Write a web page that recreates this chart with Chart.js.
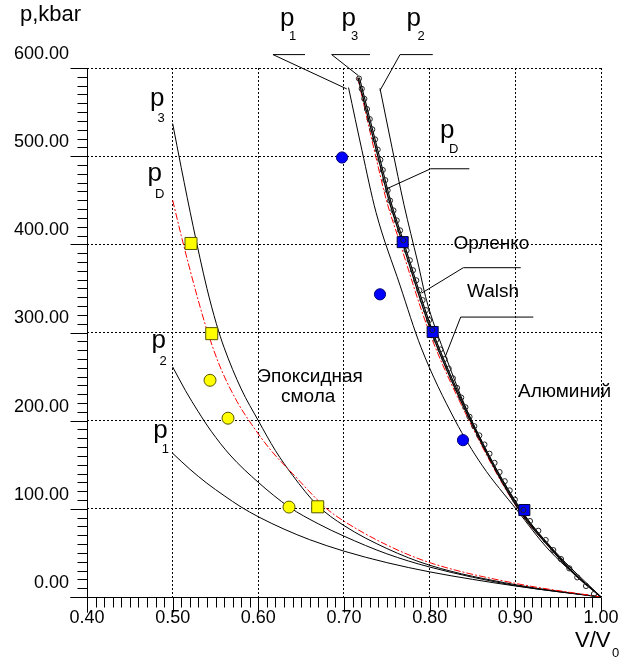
<!DOCTYPE html>
<html>
<head>
<meta charset="utf-8">
<script src="https://cdn.jsdelivr.net/npm/chart.js@4.4.1/dist/chart.umd.min.js"></script>
<style>
  body { margin: 0; background: #fff; }
  #wrap { position: relative; width: 621px; height: 659px; }
  .t { position: absolute; font-family: 'Liberation Sans', Arial, sans-serif; line-height: 1; white-space: nowrap; color: #000; }
</style>
</head>
<body>
<div id="wrap">
  <canvas id="c" width="621" height="659"></canvas>
  <span class="t" style="left:20px;top:2.5px;font-size:22px">p,kbar</span>
  <span class="t" style="left:575px;top:629px;font-size:22px">V/V</span>
  <span class="t" style="left:612px;top:646px;font-size:13px">0</span>

  <span class="t" style="left:280px;top:4.4px;font-size:26px">p</span>
  <span class="t" style="left:289px;top:29px;font-size:13px">1</span>
  <span class="t" style="left:341.5px;top:4.4px;font-size:26px">p</span>
  <span class="t" style="left:351px;top:29px;font-size:13px">3</span>
  <span class="t" style="left:406.5px;top:4.4px;font-size:26px">p</span>
  <span class="t" style="left:417.5px;top:29px;font-size:13px">2</span>

  <span class="t" style="left:150px;top:84.2px;font-size:26px">p</span>
  <span class="t" style="left:157.5px;top:110.7px;font-size:13px">3</span>
  <span class="t" style="left:147.6px;top:159.2px;font-size:26px">p</span>
  <span class="t" style="left:155px;top:187.3px;font-size:13px">D</span>
  <span class="t" style="left:151.6px;top:325.8px;font-size:26px">p</span>
  <span class="t" style="left:159.5px;top:354px;font-size:13px">2</span>
  <span class="t" style="left:153.3px;top:415.8px;font-size:26px">p</span>
  <span class="t" style="left:161.7px;top:442px;font-size:13px">1</span>

  <span class="t" style="left:440px;top:115.8px;font-size:26px">p</span>
  <span class="t" style="left:449px;top:142.3px;font-size:13px">D</span>
  <span class="t" style="left:453.5px;top:233.4px;font-size:19px">Орленко</span>
  <span class="t" style="left:467px;top:280.6px;font-size:19px">Walsh</span>
  <span class="t" style="left:257.3px;top:365.9px;font-size:19px">Эпоксидная</span>
  <span class="t" style="left:281px;top:385.6px;font-size:19px">смола</span>
  <span class="t" style="left:518px;top:380.6px;font-size:19px">Алюминий</span>
</div>
<script>
// axes
var xTicks = [0.4, 0.5, 0.6, 0.7, 0.8, 0.9, 1.0];
var yTicks = [0, 100, 200, 300, 400, 500, 600];

// epoxy resin curves (V/V0, p kbar)
var epP1V = [0.500, 0.520, 0.540, 0.560, 0.580, 0.600, 0.630, 0.660, 0.700, 0.750, 0.800, 0.850, 0.900, 0.950, 1.000];
var epP1P = [163, 145, 129, 115, 102, 91, 77, 65, 52, 39, 28.5, 20, 12.5, 6, 0];
var epP2V = [0.500, 0.515, 0.530, 0.545, 0.567, 0.600, 0.636, 0.670, 0.700, 0.750, 0.800, 0.900, 1.000];
var epP2P = [261, 234, 210, 188, 161, 130, 102, 83, 69, 49, 34, 13, 0];
var epP3V = [0.500, 0.510, 0.524, 0.540, 0.551, 0.560, 0.580, 0.600, 0.620, 0.640, 0.669, 0.700, 0.750, 0.800, 0.900, 1.000];
var epP3P = [537, 487, 420, 350, 310, 283, 236, 200, 166, 138, 104, 81, 55, 36, 14, 0];
var epPDV = [0.500, 0.510, 0.520, 0.530, 0.540, 0.555, 0.575, 0.592, 0.615, 0.640, 0.680, 0.700, 0.750, 0.800, 0.900, 1.000];
var epPDP = [450, 410, 372, 336, 303, 262, 222, 196, 166, 140, 100, 86, 59, 39, 15.5, 0];

// aluminium curves
var alP1V = [0.7053, 0.7210, 0.7374, 0.7654, 0.7899, 0.8296, 0.8611, 0.9019, 0.9393, 1.000];
var alP1P = [577.8, 506.4, 436.2, 353.5, 283.2, 200.5, 149.5, 98.6, 53.2, 0];
var alP2V = [0.7420, 0.7560, 0.7700, 0.7860, 0.7965, 0.8160, 0.8490, 0.9060, 0.9450, 1.000];
var alP2P = [577, 510, 445, 380, 336, 280, 200, 100, 53, 0];
var alP3V = [0.7163, 0.7395, 0.7525, 0.7675, 0.8015, 0.8455, 0.9035, 0.9430, 0.9700, 1.000];
var alP3P = [589, 500, 450, 404, 302, 204, 100, 53, 25, 0];
var orlV = [0.7180, 0.7412, 0.7542, 0.7692, 0.8032, 0.8470, 0.9050, 0.9443, 0.9710, 1.000];
var orlP = [589, 500, 450, 404, 302, 204, 100, 53, 25, 0];
var alPDV = [0.7160, 0.7370, 0.7495, 0.7645, 0.7990, 0.8440, 0.9030, 0.9430, 0.9700, 1.000];
var alPDP = [589, 500, 450, 404, 302, 204, 100, 53, 25, 0];

// Walsh data (small circles)
var walshV = [0.7175, 0.7207, 0.7237, 0.7268, 0.7300, 0.7330, 0.7362, 0.7393, 0.7424, 0.7452,
              0.7481, 0.7509, 0.7537, 0.7577, 0.7615, 0.7654, 0.7692, 0.7730, 0.7768, 0.7805,
              0.7843, 0.7880, 0.7917, 0.7956, 0.7993, 0.8031, 0.8076, 0.8125, 0.8174, 0.8222,
              0.8271, 0.8319, 0.8368, 0.8417, 0.8465, 0.8521, 0.8579, 0.8639, 0.8698, 0.8757,
              0.8816, 0.8876, 0.8934, 0.8994, 0.9094, 0.9171, 0.9268, 0.9354, 0.9443, 0.9533,
              0.9630, 0.9723, 0.9825, 0.9918];
var walshP = [588.0, 576.4, 565.0, 553.4, 542.0, 530.4, 519.0, 507.4, 495.9, 484.3,
              472.8, 461.2, 449.6, 438.4, 427.1, 415.8, 404.6, 393.2, 381.9, 370.6,
              359.2, 347.9, 336.7, 325.4, 314.0, 302.7, 291.7, 280.7, 269.9, 259.0,
              248.0, 237.1, 226.2, 215.2, 204.4, 193.7, 183.3, 172.9, 162.5, 152.1,
              141.7, 131.3, 120.9, 110.5, 98.6, 86.1, 75.1, 64.6, 53.2, 43.0,
              32.5, 22.3, 12.5, 3.4];

// experiment markers
var blueSqV = [0.7685, 0.8035, 0.9105];
var blueSqP = [402.5, 300.6, 98.6];
var blueCirV = [0.6977, 0.7420, 0.8389];
var blueCirP = [498.5, 343.3, 177.9];
var yelSqV = [0.5214, 0.5456, 0.6693];
var yelSqP = [401, 298.7, 102.3];
var yelCirV = [0.5436, 0.5646, 0.6358];
var yelCirP = [245.8, 202.8, 102];

// leader lines: [end of shelf, corner, tip] in data units
var leaders = [
  [[0.6545, 615.2], [0.6171, 615.2], [0.7032, 576.3]],
  [[0.7303, 615.2], [0.6856, 615.2], [0.7167, 591.4]],
  [[0.8036, 615.2], [0.7654, 615.2], [0.7420, 574.4]],
  [[0.8463, 485.7], [0.8012, 485.7], [0.7498, 463.0]],
  [[0.9063, 373.5], [0.8393, 373.5], [0.7907, 344.7]],
  [[0.9210, 317.5], [0.8362, 317.5], [0.8179, 271.9]]
];

function pts(vs, ps) {
  return vs.map(function(v, i) { return {x: v, y: ps[i]}; });
}
function curve(vs, ps, color, width, dash) {
  return {
    data: pts(vs, ps), borderColor: color, borderWidth: width, borderDash: dash || [],
    pointRadius: 0, showLine: true, fill: false, cubicInterpolationMode: 'monotone'
  };
}
function marks(vs, ps, style, r, fill, edge) {
  return {
    data: pts(vs, ps), showLine: false, pointStyle: style, pointRadius: r,
    backgroundColor: fill, borderColor: edge, borderWidth: 1
  };
}

var font = "'Liberation Sans', Arial, sans-serif";

var axisDeco = {
  id: 'axisDeco',
  afterDraw: function(chart) {
    var ctx = chart.ctx, x = chart.scales.x, y = chart.scales.y;
    var x0 = Math.round(x.getPixelForValue(0.4)) + 0.5;
    var y0 = Math.round(y.getPixelForValue(0)) + 0.5;
    var xr = Math.round(x.getPixelForValue(1.0)) + 0.5;
    var yt = Math.round(y.getPixelForValue(600)) + 0.5;
    ctx.save();
    ctx.strokeStyle = '#000';
    ctx.lineWidth = 1;
    ctx.beginPath();
    ctx.moveTo(x0, yt); ctx.lineTo(x0, y0 + 15);
    ctx.moveTo(x0 - 17, y0); ctx.lineTo(xr, y0);
    for (var i = 0; i <= 60; i++) {
      var py = Math.round(y.getPixelForValue(i * 10)) + 0.5;
      var ly = (i % 10 === 0) ? 17 : 10;
      ctx.moveTo(x0 - ly, py); ctx.lineTo(x0, py);
      var px = Math.round(x.getPixelForValue(0.4 + i * 0.01)) + 0.5;
      var lx = (i % 10 === 0) ? 15 : 10;
      ctx.moveTo(px, y0); ctx.lineTo(px, y0 + lx);
    }
    ctx.stroke();

    ctx.beginPath();
    leaders.forEach(function(l) {
      ctx.moveTo(x.getPixelForValue(l[0][0]), y.getPixelForValue(l[0][1]));
      for (var k = 1; k < l.length; k++) {
        ctx.lineTo(x.getPixelForValue(l[k][0]), y.getPixelForValue(l[k][1]));
      }
    });
    ctx.stroke();
    ctx.restore();
  }
};

function hideAt(edge) {
  return function(c) {
    return (c.tick && Math.abs(c.tick.value - edge) < 1e-6) ? 'rgba(0,0,0,0)' : '#000';
  };
}

new Chart(document.getElementById('c'), {
  type: 'line',
  data: {
    datasets: [
      marks(walshV, walshP, 'circle', 2.6, 'rgba(0,0,0,0)', '#222222'),
      marks(blueSqV, blueSqP, 'rect', 7.8, '#0000ff', '#000033'),
      marks(blueCirV, blueCirP, 'circle', 5.6, '#0000ff', '#00007a'),
      marks(yelSqV, yelSqP, 'rect', 8.5, '#ffff00', '#555500'),
      marks(yelCirV, yelCirP, 'circle', 6, '#ffff00', '#555500'),
      curve(alP3V, alP3P, '#000', 1.3),
      curve(orlV, orlP, '#000', 1.1),
      curve(alPDV, alPDP, '#ff0000', 1, [7, 2, 2, 2]),
      curve(alP1V, alP1P, '#000', 1),
      curve(alP2V, alP2P, '#000', 1),
      curve(epPDV, epPDP, '#ff0000', 1, [7, 2, 2, 2]),
      curve(epP3V, epP3P, '#000', 1),
      curve(epP2V, epP2P, '#000', 1),
      curve(epP1V, epP1P, '#000', 1)
    ]
  },
  options: {
    responsive: false,
    animation: false,
    events: [],
    layout: { padding: { top: 68, right: 20, left: 0, bottom: 0 } },
    plugins: { legend: { display: false }, tooltip: { enabled: false } },
    scales: {
      x: {
        type: 'linear', min: xTicks[0], max: xTicks[xTicks.length - 1],
        afterFit: function(s) { s.height = 62; s.paddingLeft = 0; s.paddingRight = 0; },
        afterBuildTicks: function(s) { s.ticks = xTicks.map(function(v) { return {value: v}; }); },
        border: { display: false, dash: [2, 2] },
        grid: { drawTicks: false, color: hideAt(0.4), lineWidth: 1 },
        ticks: {
          autoSkip: false, maxRotation: 0, padding: 10, color: '#000',
          font: { family: font, size: 18 },
          callback: function(v) { return Number(v).toFixed(2); }
        }
      },
      y: {
        type: 'linear', min: yTicks[0], max: yTicks[yTicks.length - 1],
        afterFit: function(s) { s.width = 87; s.paddingTop = 0; s.paddingBottom = 0; },
        afterBuildTicks: function(s) { s.ticks = yTicks.map(function(v) { return {value: v}; }); },
        border: { display: false, dash: [2, 2] },
        grid: { drawTicks: false, color: hideAt(0), lineWidth: 1 },
        ticks: {
          autoSkip: false, padding: 18, labelOffset: -14, color: '#000',
          font: { family: font, size: 18 },
          callback: function(v) { return Number(v).toFixed(2); }
        }
      }
    }
  },
  plugins: [axisDeco]
});
</script>
</body>
</html>
